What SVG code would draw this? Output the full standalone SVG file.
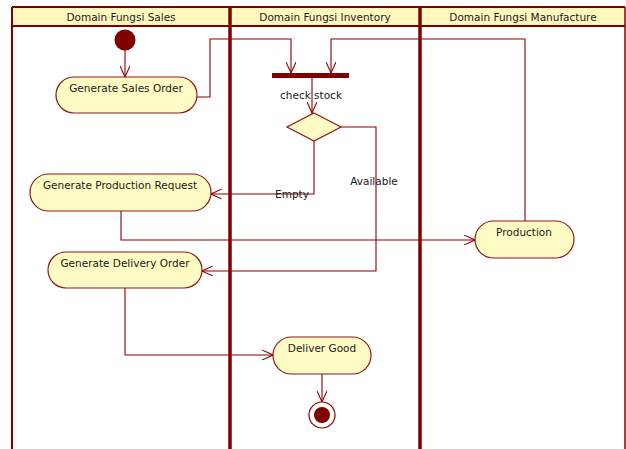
<svg xmlns="http://www.w3.org/2000/svg" width="626" height="449" viewBox="0 0 626 449">
  <style>
    .hdr { fill: #FFF9C0; stroke: none; }
    .lane { stroke: #800000; fill: none; }
    .lbl { font-family: "DejaVu Sans", Verdana, sans-serif; font-size: 10.5px; fill: #1a1a1a; text-anchor: middle; }
    .act { fill: #FFFBC4; stroke: #8B1A1A; stroke-width: 1.2; }
    .flow { fill: none; stroke: #8B0000; stroke-width: 1.1; marker-end: url(#open); }
    .plain { fill: none; stroke: #8B0000; stroke-width: 1.1; }
  </style>
  <defs>
    <marker id="open" viewBox="0 0 12 10" refX="11" refY="5" markerWidth="12" markerHeight="10" markerUnits="userSpaceOnUse" orient="auto">
      <path d="M0,0 L11,5 L0,10" fill="none" stroke="#8B0000" stroke-width="1.1"/>
    </marker>
  </defs>
  <rect width="626" height="449" fill="#ffffff"/>

  <!-- swimlanes -->
  <g id="lanes">
    <rect class="hdr" x="12" y="7" width="613" height="19"/>
    <line class="lane" x1="12" y1="7" x2="625" y2="7" stroke-width="2"/>
    <line class="lane" x1="12" y1="26" x2="625" y2="26" stroke-width="2"/>
    <line class="lane" x1="12" y1="7" x2="12" y2="449" stroke-width="2"/>
    <line class="lane" x1="230" y1="7" x2="230" y2="449" stroke-width="3.5"/>
    <line class="lane" x1="420" y1="7" x2="420" y2="449" stroke-width="3.5"/>
    <line class="lane" x1="625" y1="7" x2="625" y2="449" stroke-width="1.5"/>
    <text class="lbl" x="121" y="21">Domain Fungsi Sales</text>
    <text class="lbl" x="325" y="21">Domain Fungsi Inventory</text>
    <text class="lbl" x="523" y="21">Domain Fungsi Manufacture</text>
  </g>

  <!-- connectors -->
  <g id="connectors">
    <path class="flow" d="M125,50 L125,77"/>
    <path class="flow" d="M197,97 L210,97 L210,39 L291,39 L291,73"/>
    <path class="flow" d="M525,221 L525,39 L331,39 L331,73"/>
    <path class="flow" d="M312,78 L312,113"/>
    <path class="flow" d="M314,141 L314,194 L211,194"/>
    <path class="flow" d="M341,127 L376,127 L376,271 L202,271"/>
    <path class="flow" d="M121,211 L121,240 L475,240"/>
    <path class="flow" d="M125,288 L125,355 L273,355"/>
    <path class="flow" d="M322,374 L322,402"/>
    <text class="lbl" x="311" y="99">check stock</text>
    <text class="lbl" x="292" y="198">Empty</text>
    <text class="lbl" x="374" y="185">Available</text>
  </g>

  <g id="start">
    <circle cx="125" cy="40" r="10.5" fill="#800000"/>
  </g>

  <g id="generate-sales-order">
    <rect class="act" x="56" y="77" width="141" height="36" rx="18"/>
    <text class="lbl" x="126" y="92">Generate Sales Order</text>
  </g>

  <g id="fork">
    <rect x="272" y="73" width="77" height="5" fill="#800000"/>
  </g>

  <g id="decision">
    <polygon points="314,113 341,127 314,141 287,127" fill="#FFFBC4" stroke="#8B1A1A" stroke-width="1.2"/>
  </g>

  <g id="generate-production-request">
    <rect class="act" x="30" y="174" width="181" height="37" rx="18.5"/>
    <text class="lbl" x="120" y="189">Generate Production Request</text>
  </g>

  <g id="production">
    <rect class="act" x="475" y="221" width="99" height="37" rx="18.5"/>
    <text class="lbl" x="524" y="236">Production</text>
  </g>

  <g id="generate-delivery-order">
    <rect class="act" x="48" y="252" width="154" height="36" rx="18"/>
    <text class="lbl" x="125" y="267">Generate Delivery Order</text>
  </g>

  <g id="deliver-good">
    <rect class="act" x="273" y="337" width="98" height="37" rx="18.5"/>
    <text class="lbl" x="322" y="352">Deliver Good</text>
  </g>

  <g id="end">
    <circle cx="322" cy="415" r="13" fill="#ffffff" stroke="#8B0000" stroke-width="1.2"/>
    <circle cx="322" cy="415" r="8" fill="#800000"/>
  </g>
</svg>
